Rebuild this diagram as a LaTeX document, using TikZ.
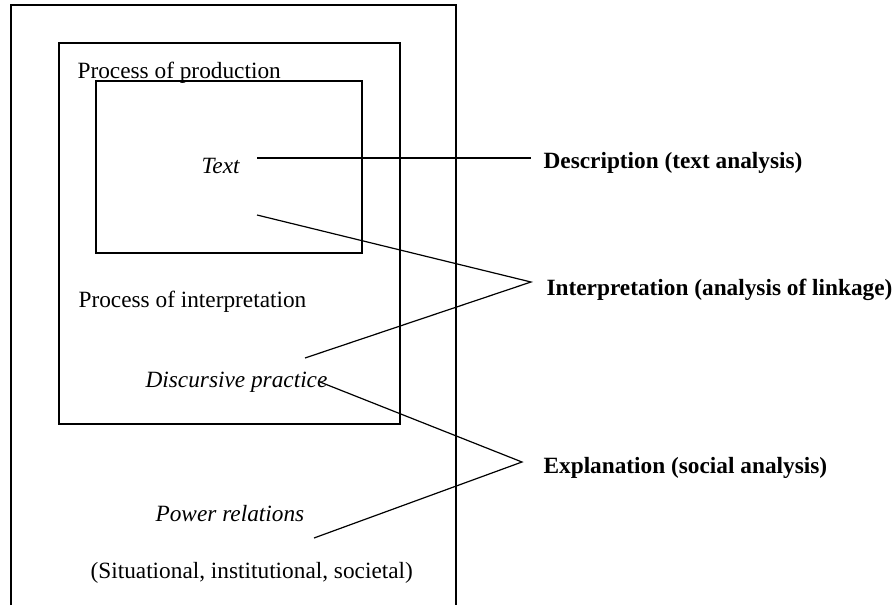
\documentclass[tikz,border=0pt]{standalone}
\usepackage{fontspec}
\setmainfont{Liberation Serif}

\begin{document}
\begin{tikzpicture}[x=1pt,y=-1pt,line width=1.2pt]
\tikzstyle{every node}+=[inner sep=0pt,anchor=base west,font=\fontsize{23.3}{28}\selectfont]
\tikzstyle{lbl}=[font=\fontsize{23.3}{28}\selectfont\bfseries]
\useasboundingbox (0,0) rectangle (894,605);
\draw [black] (11,605) -- (11,5) -- (456,5) -- (456,605);
\draw [black] (59,43) rectangle (400,424);
\draw [black] (96,81) rectangle (362,253);
\node (prod) at (77,78) {Process of production};
\node (text) at (201,173) {\itshape Text};
\node (interp) at (78,307) {Process of interpretation};
\node (disc) at (145,387) {\itshape Discursive practice};
\node (power) at (155,521) {\itshape Power relations};
\node (situ) at (90,578) {(Situational, institutional, societal)};
\node [lbl] (descr) at (543,168) {Description (text analysis)};
\node [lbl] (interpr) at (546,295) {Interpretation (analysis of linkage)};
\node [lbl] (expl) at (543,473) {Explanation (social analysis)};
\coordinate (text1) at (257,158);
\coordinate (text2) at (257,215);
\coordinate (disc1) at (305,358);
\coordinate (disc2) at (320,382);
\coordinate (power1) at (314,538);
\coordinate (descrhub) at (531,158);
\coordinate (interprhub) at (531,282);
\coordinate (explhub) at (522,462);
\draw [black] (text1) -- (descrhub);
\draw [black] (text2) -- (interprhub) -- (disc1);
\draw [black] (disc2) -- (explhub) -- (power1);
\end{tikzpicture}
\end{document}
